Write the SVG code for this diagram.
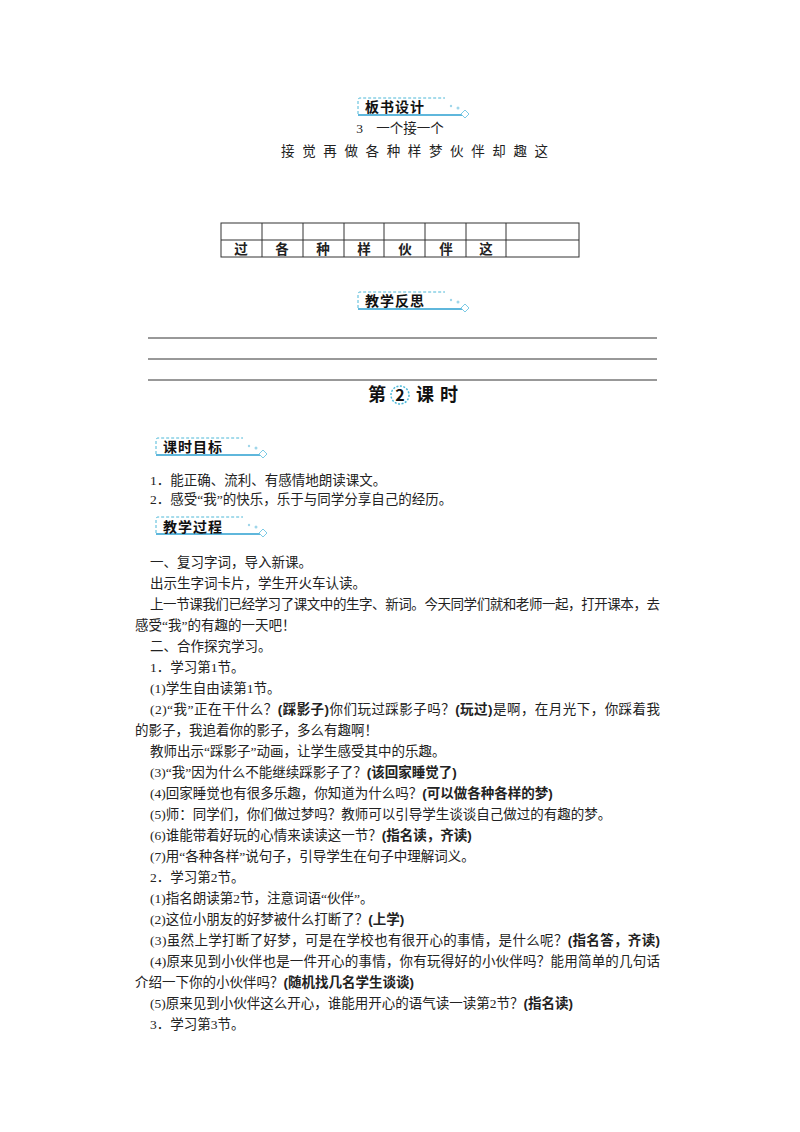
<svg xmlns="http://www.w3.org/2000/svg" width="800" height="1132" viewBox="0 0 800 1132">
<style>
text{font-family:"Liberation Serif","Noto Sans CJK SC",serif;font-size:13.5px;fill:#222}
.b{font-weight:bold;font-family:"Liberation Sans","Noto Sans CJK SC",sans-serif}
.h{font-family:"Noto Sans CJK SC",sans-serif;font-weight:bold;font-size:14px;letter-spacing:1px;fill:#111}
.dash{fill:none;stroke:#4cb8d8;stroke-width:1;stroke-dasharray:3 2}
.ul{stroke:#2a9fd0;stroke-width:1.6}
.dm{fill:#fff;stroke:#7ccbe6;stroke-width:1}
.ln{stroke:#333;stroke-width:1}
</style>
<defs>
<g id="tag">
<path class="dash" d="M1 17 V3 Q1 1 3 1 H88"/>
<line class="ul" x1="1" y1="18" x2="108" y2="18"/>
<circle cx="94" cy="9" r="1.2" fill="#9fd6ea"/>
<circle cx="101" cy="11" r="1.5" fill="#9fd6ea"/>
<path class="dm" d="M108 13 L112 17 L108 21 L104 17 Z"/>
</g>
</defs>
<g id="tag-banshu"><use href="#tag" x="357" y="97"/><text class="h" x="365" y="112">板书设计</text></g>
<text x="400" y="133" text-anchor="middle">3　一个接一个</text>
<text x="281" y="156" textLength="267" lengthAdjust="spacing">接觉再做各种样梦伙伴却趣这</text>
<g id="table" fill="none" stroke="#333">
<rect x="221" y="223" width="358" height="34"/>
<line x1="221" y1="240" x2="579" y2="240"/>
<line x1="262" y1="223" x2="262" y2="257"/><line x1="303" y1="223" x2="303" y2="257"/>
<line x1="344" y1="223" x2="344" y2="257"/><line x1="384" y1="223" x2="384" y2="257"/>
<line x1="425" y1="223" x2="425" y2="257"/><line x1="466" y1="223" x2="466" y2="257"/>
<line x1="506" y1="223" x2="506" y2="257"/>
</g>
<g class="b" text-anchor="middle">
<text class="b" x="241" y="254">过</text><text class="b" x="282" y="254">各</text><text class="b" x="323" y="254">种</text><text class="b" x="364" y="254">样</text><text class="b" x="405" y="254">伙</text><text class="b" x="446" y="254">伴</text><text class="b" x="486" y="254">这</text>
</g>
<g id="tag-fansi"><use href="#tag" x="357" y="291"/><text class="h" x="365" y="306">教学反思</text></g>
<line class="ln" x1="148" y1="338" x2="657" y2="338"/>
<line class="ln" x1="148" y1="359" x2="657" y2="359"/>
<line class="ln" x1="148" y1="380" x2="657" y2="380"/>
<g id="title">
<text class="h" x="368" y="401" style="font-size:18px">第</text>
<circle cx="400" cy="395" r="9" fill="none" stroke="#4cb8d8" stroke-width="1.5" stroke-dasharray="2 1.5"/>
<text class="h" x="400" y="401" text-anchor="middle" style="font-size:16px;letter-spacing:0">2</text>
<text class="h" x="416" y="401" style="font-size:18px;letter-spacing:6px">课时</text>
</g>
<g id="tag-mubiao"><use href="#tag" x="155" y="437"/><text class="h" x="163" y="452">课时目标</text></g>
<text x="150" y="485">1．能正确、流利、有感情地朗读课文。</text>
<text x="150" y="504">2．感受“我”的快乐，乐于与同学分享自己的经历。</text>
<g id="tag-guocheng"><use href="#tag" x="155" y="516"/><text class="h" x="163" y="532">教学过程</text></g>
<text x="150" y="567">一、复习字词，导入新课。</text>
<text x="150" y="588">出示生字词卡片，学生开火车认读。</text>
<text x="150" y="609" textLength="510" lengthAdjust="spacing">上一节课我们已经学习了课文中的生字、新词。今天同学们就和老师一起，打开课本，去</text>
<text x="135" y="630">感受“我”的有趣的一天吧！</text>
<text x="150" y="651">二、合作探究学习。</text>
<text x="150" y="672">1．学习第1节。</text>
<text x="150" y="693">(1)学生自由读第1节。</text>
<text x="150" y="714" textLength="510" lengthAdjust="spacing">(2)“我”正在干什么？<tspan class="b">(踩影子)</tspan>你们玩过踩影子吗？<tspan class="b">(玩过)</tspan>是啊，在月光下，你踩着我</text>
<text x="135" y="735">的影子，我追着你的影子，多么有趣啊！</text>
<text x="150" y="756">教师出示“踩影子”动画，让学生感受其中的乐趣。</text>
<text x="150" y="777">(3)“我”因为什么不能继续踩影子了？<tspan class="b">(该回家睡觉了)</tspan></text>
<text x="150" y="798">(4)回家睡觉也有很多乐趣，你知道为什么吗？<tspan class="b">(可以做各种各样的梦)</tspan></text>
<text x="150" y="819">(5)师：同学们，你们做过梦吗？教师可以引导学生谈谈自己做过的有趣的梦。</text>
<text x="150" y="840">(6)谁能带着好玩的心情来读读这一节？<tspan class="b">(指名读，齐读)</tspan></text>
<text x="150" y="861">(7)用“各种各样”说句子，引导学生在句子中理解词义。</text>
<text x="150" y="882">2．学习第2节。</text>
<text x="150" y="903">(1)指名朗读第2节，注意词语“伙伴”。</text>
<text x="150" y="924">(2)这位小朋友的好梦被什么打断了？<tspan class="b">(上学)</tspan></text>
<text x="150" y="945" textLength="510" lengthAdjust="spacing">(3)虽然上学打断了好梦，可是在学校也有很开心的事情，是什么呢？<tspan class="b">(指名答，齐读)</tspan></text>
<text x="150" y="966" textLength="510" lengthAdjust="spacing">(4)原来见到小伙伴也是一件开心的事情，你有玩得好的小伙伴吗？能用简单的几句话</text>
<text x="135" y="987">介绍一下你的小伙伴吗？<tspan class="b">(随机找几名学生谈谈)</tspan></text>
<text x="150" y="1008">(5)原来见到小伙伴这么开心，谁能用开心的语气读一读第2节？<tspan class="b">(指名读)</tspan></text>
<text x="150" y="1029">3．学习第3节。</text>
</svg>
